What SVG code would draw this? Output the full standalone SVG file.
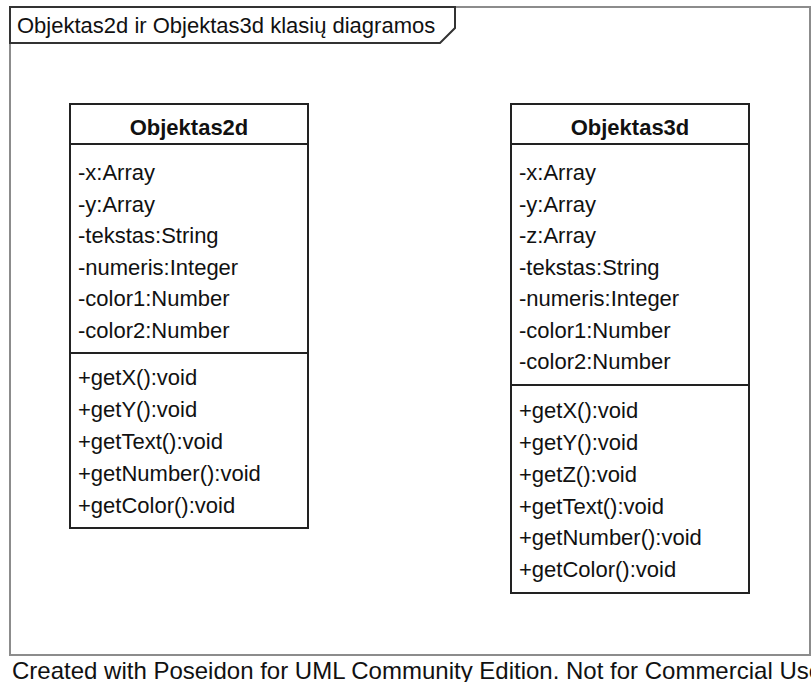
<svg xmlns="http://www.w3.org/2000/svg" width="811" height="682" viewBox="0 0 811 682">
  <style>
    text { font-family: "Liberation Sans", Arial, sans-serif; fill: #111; }
    .t { font-size: 22px; }
    .h { font-size: 22px; font-weight: bold; text-anchor: middle; }
    .foot { font-size: 24px; fill: #111; }
    .frame { fill: none; stroke: #8c8c8c; stroke-width: 2; }
    .tab { fill: #fff; stroke: #333; stroke-width: 2; }
    .box { fill: #fff; stroke: #222; stroke-width: 2; }
    .sep { stroke: #222; stroke-width: 2; }
  </style>
  <rect width="811" height="682" fill="#fff"/>

  <!-- diagram frame with its name tab -->
  <g id="frame">
    <rect class="frame" x="10" y="7" width="800" height="648"/>
    <path class="tab" d="M10,7 L455,7 L455,28 L440,43 L10,43 Z"/>
    <text class="t" x="17" y="33">Objektas2d ir Objektas3d klasių diagramos</text>
  </g>

  <!-- class Objektas2d -->
  <g id="Objektas2d">
    <rect class="box" x="70" y="104" width="238" height="424"/>
    <line class="sep" x1="70" y1="144" x2="308" y2="144"/>
    <line class="sep" x1="70" y1="353" x2="308" y2="353"/>
    <text class="h" x="189" y="135">Objektas2d</text>
    <text class="t" x="78" y="180">-x:Array</text>
    <text class="t" x="78" y="211.5">-y:Array</text>
    <text class="t" x="78" y="243">-tekstas:String</text>
    <text class="t" x="78" y="274.5">-numeris:Integer</text>
    <text class="t" x="78" y="306">-color1:Number</text>
    <text class="t" x="78" y="337.5">-color2:Number</text>
    <text class="t" x="78" y="385">+getX():void</text>
    <text class="t" x="78" y="417">+getY():void</text>
    <text class="t" x="78" y="449">+getText():void</text>
    <text class="t" x="78" y="480.5">+getNumber():void</text>
    <text class="t" x="78" y="512.5">+getColor():void</text>
  </g>

  <!-- class Objektas3d -->
  <g id="Objektas3d">
    <rect class="box" x="511" y="104" width="238" height="489"/>
    <line class="sep" x1="511" y1="144" x2="749" y2="144"/>
    <line class="sep" x1="511" y1="385" x2="749" y2="385"/>
    <text class="h" x="630" y="135">Objektas3d</text>
    <text class="t" x="519" y="180">-x:Array</text>
    <text class="t" x="519" y="211.5">-y:Array</text>
    <text class="t" x="519" y="243">-z:Array</text>
    <text class="t" x="519" y="274.5">-tekstas:String</text>
    <text class="t" x="519" y="306">-numeris:Integer</text>
    <text class="t" x="519" y="337.5">-color1:Number</text>
    <text class="t" x="519" y="369">-color2:Number</text>
    <text class="t" x="519" y="418">+getX():void</text>
    <text class="t" x="519" y="450">+getY():void</text>
    <text class="t" x="519" y="481.5">+getZ():void</text>
    <text class="t" x="519" y="513.5">+getText():void</text>
    <text class="t" x="519" y="545">+getNumber():void</text>
    <text class="t" x="519" y="577">+getColor():void</text>
  </g>

  <!-- no associations between the two classes -->
  <g id="connectors"/>

  <text class="foot" x="12" y="679">Created with Poseidon for UML Community Edition. Not for Commercial Use</text>
</svg>
